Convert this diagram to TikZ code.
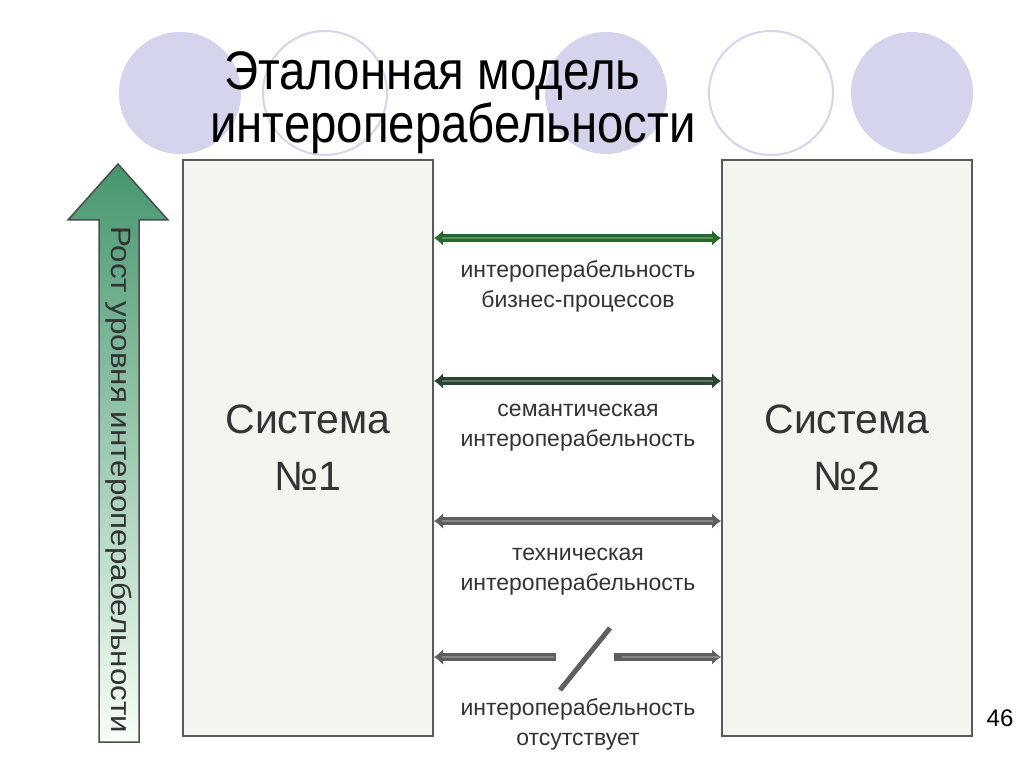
\documentclass[tikz,border=0pt]{standalone}
\usepackage{fontspec}
\setmainfont{Liberation Sans}
\usetikzlibrary{arrows.meta}
\definecolor{lav}{RGB}{212,212,236}
\definecolor{boxfill}{RGB}{243,246,238}
\definecolor{pipegreen}{RGB}{38,105,45}
\definecolor{pipedark}{RGB}{40,70,50}
\definecolor{pipegray}{RGB}{95,95,95}
\tikzset{
  sysbox/.style={draw=gray!70!black, line width=2pt, fill=boxfill,
    minimum width=250pt, minimum height=575pt, align=center,
    font=\fontsize{41}{57}\selectfont, text=black!80},
  lbl/.style={align=center, text=black!80,
    font=\fontsize{23}{30}\selectfont},
  pipe/.style={line width=8pt, draw=#1,
    {Latex[length=9pt,width=16pt]}-{Latex[length=9pt,width=16pt]},
    postaction={draw=#1!75!white, line width=2pt, arrows=-,
      shorten <=8pt, shorten >=8pt}},
  halfpipe/.style={line width=8pt, draw=#1,
    postaction={draw=#1!75!white, line width=2pt, arrows=-,
      shorten <=8pt, shorten >=2pt}}
}
\begin{document}
\begin{tikzpicture}[x=1pt,y=-1pt]
  \useasboundingbox[fill=white] (0,0) rectangle (1024,767);
  % circles behind the title
  \fill[lav] (180,93) circle (61);
  \draw[lav, line width=2pt] (325,93) circle (62);
  \fill[lav] (606,93) circle (61);
  \draw[lav, line width=2pt] (771,93) circle (62);
  \fill[lav] (912,93) circle (61);
  \node[anchor=north west, inner sep=0pt, align=left] (title) at (224,51)
    {\scalebox{1.03}[1.18]{\fontsize{46}{50}\selectfont Эталонная модель}\\[2pt]
     \hspace*{-14pt}\scalebox{1.03}[1.18]{\fontsize{46}{50}\selectfont интероперабельности}};
  % systems
  \node[sysbox] (sys1) at (308,448) {Система\\№1};
  \node[sysbox] (sys2) at (847,448) {Система\\№2};
  % growth arrow
  \filldraw[draw=black!70, line width=1.5pt,
    top color={rgb,255:red,70;green,150;blue,110}, bottom color=green!3!white]
    (99,742) -- (99,220) -- (68,220) -- (118,164) -- (168,220)
    -- (139,220) -- (139,742) -- cycle;
  \node[rotate=-90, anchor=west, inner sep=0pt, text=black!80]
    (grow) at (119,226) {\scalebox{1.12}[1]{\fontsize{28}{32}\selectfont Рост уровня интероперабельности}};
  % levels
  \coordinate (l1) at (0,238);
  \coordinate (l2) at (0,381);
  \coordinate (l3) at (0,521);
  \coordinate (l4) at (0,657);
  \draw[pipe=pipegreen] (sys1.east |- l1) -- (sys2.west |- l1);
  \draw[pipe=pipedark] (sys1.east |- l2) -- (sys2.west |- l2);
  \draw[pipe=pipegray] (sys1.east |- l3) -- (sys2.west |- l3);
  \coordinate (gapL) at (556,657);
  \coordinate (gapR) at (614,657);
  \draw[halfpipe=pipegray, {Latex[length=9pt,width=16pt]}-] (sys1.east |- l4) -- (gapL);
  \draw[halfpipe=pipegray, -{Latex[length=9pt,width=16pt]}] (gapR) -- (sys2.west |- l4);
  \coordinate (cutA) at (560,690);
  \coordinate (cutB) at (610,628);
  \draw[pipegray, line width=5pt] (cutA) -- (cutB);
  \node[lbl] (t1) at (578,286) {интероперабельность\\бизнес-процессов};
  \node[lbl] (t2) at (578,428) {семантическая\\интероперабельность};
  \node[lbl] (t3) at (578,572) {техническая\\интероперабельность};
  \node[lbl] (t4) at (578,724) {интероперабельность\\отсутствует};
  \node[font=\fontsize{24}{28}\selectfont] (page) at (1000,718) {46};
\end{tikzpicture}
\end{document}
